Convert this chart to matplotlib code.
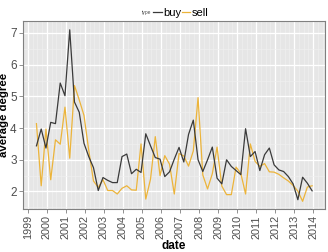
import numpy as np
import matplotlib
matplotlib.use("Agg")
import matplotlib.pyplot as plt
from matplotlib.lines import Line2D
from matplotlib.ticker import MultipleLocator

plt.rcParams.update({"font.family": ["Liberation Sans", "DejaVu Sans"]})

# quarterly observations, decimal year
start = 1999.45
step = 0.25
buy = [3.44, 3.97, 3.37, 4.18, 4.14, 5.42, 5.02, 7.10, 4.82, 4.50,
       3.52, 3.10, 2.75, 2.03, 2.44, 2.35, 2.28, 2.28, 3.10, 3.18,
       2.56, 2.70, 2.60, 3.82, 3.44, 3.07, 3.02, 2.47, 2.62, 3.02,
       3.39, 2.93, 3.80, 4.25, 3.00, 2.63, 3.00, 3.40, 2.42, 2.24,
       3.00, 2.79, 2.66, 2.53, 3.98, 3.10, 3.26, 2.66, 3.16, 3.37,
       2.84, 2.68, 2.63, 2.47, 2.24, 1.74, 2.45, 2.26, 2.02]
sell = [4.14, 2.18, 3.97, 2.37, 3.63, 3.49, 4.66, 3.05, 5.34, 4.89,
        4.40, 3.30, 2.33, 2.13, 2.37, 2.03, 2.03, 1.92, 2.10, 2.18,
        2.05, 2.04, 3.50, 1.76, 2.39, 3.73, 2.50, 3.13, 2.86, 1.92,
        3.20, 3.12, 2.80, 3.28, 4.96, 2.52, 2.08, 2.56, 3.40, 2.17,
        1.90, 1.90, 2.77, 2.57, 1.92, 3.50, 2.95, 2.79, 2.88, 2.62,
        2.61, 2.54, 2.43, 2.33, 2.19, 2.01, 1.69, 2.14, 2.18]
dates = start + step * np.arange(len(buy))
years = list(range(1999, 2015))

BUY_C = "#3a3a3a"
SELL_C = "#ecb43a"
TXT = "#4d4d4d"

fig = plt.figure(figsize=(3.28, 2.52), dpi=100)
ax = fig.add_axes([0.070, 0.171, 0.921, 0.746])
ax.set_facecolor("#e6e6e6")

ax.plot(dates, buy, color=BUY_C, lw=0.9, zorder=3)
ax.plot(dates, sell, color=SELL_C, lw=0.9, zorder=2)

ax.set_xlim(1998.74, 2014.63)
ax.set_ylim(1.45, 7.38)
ax.set_xticks(years)
ax.set_xticklabels([str(y) for y in years], rotation=90)
ax.xaxis.set_minor_locator(MultipleLocator(0.25))
ax.set_yticks([2, 3, 4, 5, 6, 7])
ax.yaxis.set_minor_locator(MultipleLocator(0.5))
ax.grid(which="major", color="white", lw=0.9)
ax.grid(which="minor", color="#f0f0f0", lw=0.45)
ax.set_axisbelow(True)
ax.tick_params(which="major", length=3, width=0.6, color="#7f7f7f",
               labelsize=7.8, labelcolor=TXT, pad=1.5)
ax.tick_params(axis="y", labelsize=8.5)
ax.tick_params(which="minor", length=0)
for s in ax.spines.values():
    s.set_color("#808080")
    s.set_linewidth(0.8)

ax.set_xlabel("date", fontsize=8.5, fontweight="bold")
ax.xaxis.set_label_coords(0.5, -0.163)
ax.set_ylabel("average degree", fontsize=8.2, fontweight="bold")
ax.yaxis.set_label_coords(-0.046, 0.5)

# legend on top, ggplot style
fig.text(0.432, 0.950, "type", fontsize=3.5, color=TXT, va="center", ha="left")
handles = [Line2D([], [], color=BUY_C, lw=0.9), Line2D([], [], color=SELL_C, lw=0.9)]
fig.legend(handles, ["buy", "sell"], ncol=2, frameon=False, fontsize=8,
           loc="center left", bbox_to_anchor=(0.467, 0.950),
           handlelength=0.75, handletextpad=0.15, columnspacing=0.05,
           borderpad=0, borderaxespad=0)

fig.savefig("out.png", dpi=100)
